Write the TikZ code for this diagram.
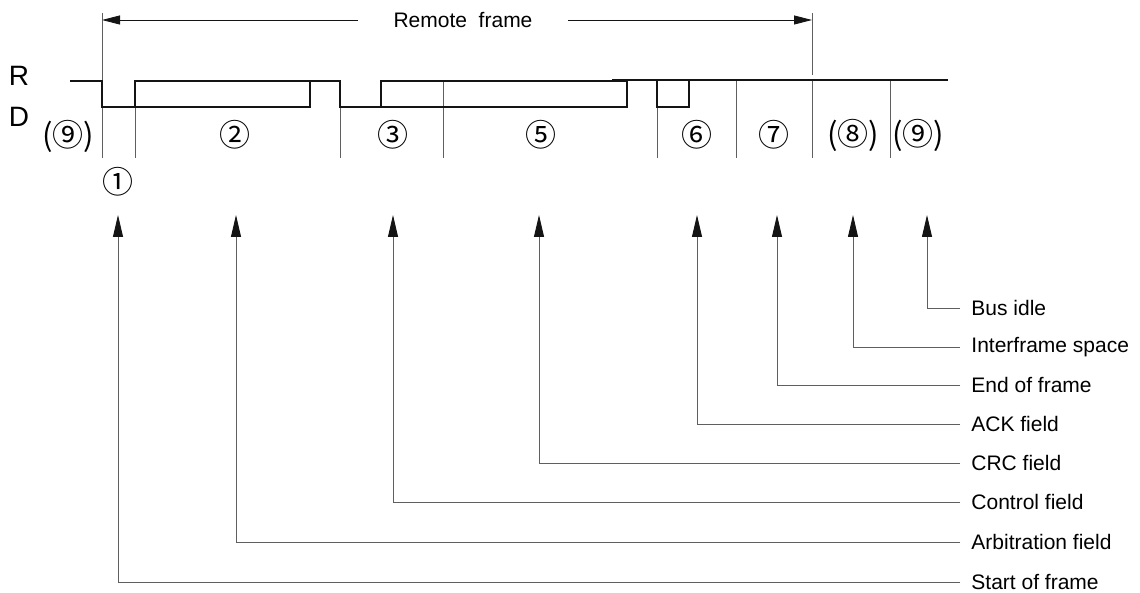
\documentclass[tikz,border=0pt]{standalone}
\usepackage{fontspec}
\setmainfont{Liberation Sans}
\newfontfamily\circfont{Noto Sans CJK JP}
\usetikzlibrary{arrows.meta, positioning}
\definecolor{busInk}{RGB}{20,20,20}
\definecolor{busGrey}{RGB}{95,95,95}

\begin{document}
\begin{tikzpicture}[
    x=0.5pt, y=-0.5pt,
    wave/.style={line width=0.75pt, draw=busInk},
    divider/.style={line width=0.45pt, draw=busGrey},
    span/.style={-{Triangle[length=9pt, width=4.5pt]}, line width=0.45pt, draw=busInk},
    pointer/.style={-{Triangle[length=11pt, width=5pt, color=busInk]}, line width=0.45pt, draw=busGrey},
    fieldname/.style={anchor=west, inner xsep=5.5pt, inner ysep=0pt, font=\fontsize{10.5}{12}\selectfont},
    fieldnum/.style={inner sep=0pt, font=\circfont\fontsize{15.5}{17}\selectfont},
    level/.style={inner sep=0pt, font=\fontsize{14}{16}\selectfont}
]
    \useasboundingbox (0,0) rectangle (1140,593);

    % frame span on top
    \node[inner xsep=17.5pt, inner ysep=0pt, font=\fontsize{10.5}{12}\selectfont] (rf) at (463,20) {Remote~ frame};
    \coordinate (fstart) at (102,20);
    \coordinate (fend) at (812,20);
    \draw[span] (rf.west) -- (fstart);
    \draw[span] (rf.east) -- (fend);

    % levels
    \node[level] (rec) at (19,76) {R};
    \node[level] (dom) at (19,117) {D};

    % field dividers
    \draw[divider] (102,13) -- (102,158);
    \draw[divider] (812,13) -- (812,75);
    \draw[divider] (812,81) -- (812,158);
    \draw[divider] (135,107) -- (135,158);
    \draw[divider] (340,107) -- (340,158);
    \draw[divider] (443,81) -- (443,158);
    \draw[divider] (657,107) -- (657,158);
    \draw[divider] (736,81) -- (736,158);
    \draw[divider] (890,81) -- (890,158);

    % bus waveform
    \draw[wave] (70,81) -- (102,81) -- (102,107) -- (310,107) -- (310,81);
    \draw[wave] (135,107) -- (135,81) -- (340,81) -- (340,107) -- (381,107) -- (381,81) -- (627,81) -- (627,107) -- (381,107);
    \draw[wave] (612,80) -- (948,80);
    \draw[wave] (657,80) -- (657,107) -- (689,107) -- (689,80);

    % field numbers
    \node[fieldnum] (n9a) at (68,136) {(⑨)};
    \node[fieldnum] (n1) at (118,182) {①};
    \node[fieldnum] (n2) at (235,135) {②};
    \node[fieldnum] (n3) at (393,135) {③};
    \node[fieldnum] (n5) at (541,135) {⑤};
    \node[fieldnum] (n6) at (697,135) {⑥};
    \node[fieldnum] (n7) at (774,135) {⑦};
    \node[fieldnum] (n8) at (853,135) {(⑧)};
    \node[fieldnum] (n9b) at (918,135) {(⑨)};

    % field names
    \node[fieldname] (idle) at (960,308) {Bus idle};
    \node[fieldname] (ifs) at (960,347) {Interframe space};
    \node[fieldname] (eof) at (960,385) {End of frame};
    \node[fieldname] (ack) at (960,424) {ACK field};
    \node[fieldname] (crc) at (960,463) {CRC field};
    \node[fieldname] (ctrl) at (960,502) {Control field};
    \node[fieldname] (arb) at (960,542) {Arbitration field};
    \node[fieldname] (sof) at (960,582) {Start of frame};

    \coordinate (tsof) at (118,215);
    \coordinate (tarb) at (236,215);
    \coordinate (tctrl) at (393,215);
    \coordinate (tcrc) at (539,215);
    \coordinate (tack) at (697,215);
    \coordinate (teof) at (777,215);
    \coordinate (tifs) at (853,215);
    \coordinate (tidle) at (927,215);

    \draw[pointer] (sof.west) -| (tsof);
    \draw[pointer] (arb.west) -| (tarb);
    \draw[pointer] (ctrl.west) -| (tctrl);
    \draw[pointer] (crc.west) -| (tcrc);
    \draw[pointer] (ack.west) -| (tack);
    \draw[pointer] (eof.west) -| (teof);
    \draw[pointer] (ifs.west) -| (tifs);
    \draw[pointer] (idle.west) -| (tidle);
\end{tikzpicture}
\end{document}
